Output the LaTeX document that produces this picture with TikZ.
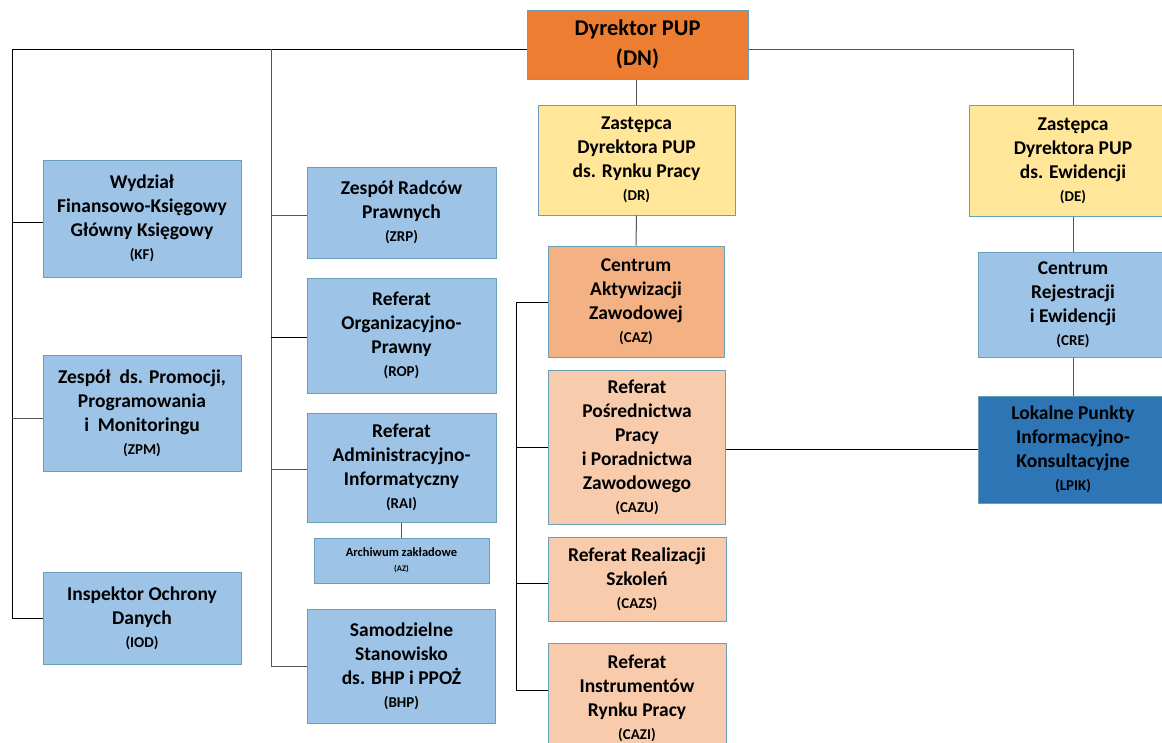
\documentclass[tikz,border=0pt]{standalone}
\usepackage{fontspec}
\setmainfont{Carlito}
\definecolor{dnor}{HTML}{ED7D31}
\definecolor{ylw}{HTML}{FFE699}
\definecolor{lblue}{HTML}{9DC3E6}
\definecolor{dblue}{HTML}{2E75B6}
\definecolor{cazc}{HTML}{F4B183}
\definecolor{peach}{HTML}{F8CBAD}
\definecolor{bordc}{HTML}{6A9FB5}
\definecolor{linec}{HTML}{555555}
\newcommand\abtxt[1]{{\fontsize{15}{17}\selectfont #1}}
\begin{document}
\begin{tikzpicture}[x=1pt,y=-1pt,
  box/.style={draw=bordc, line width=1pt, inner sep=0pt, align=center,
    font=\fontsize{19.5}{24}\selectfont\bfseries},
  bluebox/.style={box, fill=lblue},
  ylwbox/.style={box, fill=ylw},
  peachbox/.style={box, fill=peach},
  conn/.style={draw=linec, line width=1pt},
  connd/.style={draw=black, line width=1pt}]
\clip (0,0) rectangle (1162,742);
\fill[white] (0,0) rectangle (1162,742);

% director
\node[box, fill=dnor, minimum width=221pt, minimum height=69pt,
  font=\fontsize{22.5}{30}\selectfont\bfseries] (DN) at (637.5,44.5) {Dyrektor PUP\\(DN)};

% deputies
\node[ylwbox, minimum width=197pt, minimum height=110pt] (DR) at (636.5,160)
  {Zastępca\\Dyrektora PUP\\ds. Rynku Pracy\\[-1pt]\abtxt{(DR)}};
\node[ylwbox, minimum width=208pt, minimum height=111pt] (DE) at (1073,160.5)
  {Zastępca\\Dyrektora PUP\\ds. Ewidencji\\[-1pt]\abtxt{(DE)}};

% CAZ column
\node[box, fill=cazc, minimum width=176pt, minimum height=111pt] (CAZ) at (636,301.5)
  {Centrum\\Aktywizacji\\Zawodowej\\[-1pt]\abtxt{(CAZ)}};
\node[peachbox, minimum width=177pt, minimum height=154pt] (CAZU) at (637,447)
  {Referat\\Pośrednictwa\\Pracy\\i Poradnictwa\\Zawodowego\\[-1pt]\abtxt{(CAZU)}};
\node[peachbox, minimum width=178pt, minimum height=84pt] (CAZS) at (637,579)
  {Referat Realizacji\\Szkoleń\\[-1pt]\abtxt{(CAZS)}};
\node[peachbox, minimum width=178pt, minimum height=110pt] (CAZI) at (637,698)
  {Referat\\Instrumentów\\Rynku Pracy\\[-1pt]\abtxt{(CAZI)}};

% right column
\node[bluebox, minimum width=190pt, minimum height=105pt] (CRE) at (1073,304.5)
  {Centrum\\Rejestracji\\i Ewidencji\\[-1pt]\abtxt{(CRE)}};
\node[box, fill=dblue, minimum width=190pt, minimum height=107pt] (LPIK) at (1073,449.5)
  {Lokalne Punkty\\Informacyjno-\\Konsultacyjne\\[-1pt]\abtxt{(LPIK)}};

% left column
\node[bluebox, minimum width=198pt, minimum height=117pt] (KF) at (142,218.5)
  {Wydział\\Finansowo-Księgowy\\Główny Księgowy\\[-1pt]\abtxt{(KF)}};
\node[bluebox, minimum width=198pt, minimum height=116pt] (ZPM) at (142,413)
  {Zespół\ \ ds. Promocji,\\Programowania\\i\ \ Monitoringu\\[-1pt]\abtxt{(ZPM)}};
\node[bluebox, minimum width=198pt, minimum height=92pt] (IOD) at (142,618)
  {Inspektor Ochrony\\Danych\\[-1pt]\abtxt{(IOD)}};

% second column
\node[bluebox, minimum width=189pt, minimum height=91pt] (ZRP) at (401.5,212.5)
  {Zespół Radców\\Prawnych\\[-1pt]\abtxt{(ZRP)}};
\node[bluebox, minimum width=189pt, minimum height=115pt] (ROP) at (401.5,335.5)
  {Referat\\Organizacyjno-\\Prawny\\[-1pt]\abtxt{(ROP)}};
\node[bluebox, minimum width=189pt, minimum height=109pt] (RAI) at (401.5,467.5)
  {Referat\\Administracyjno-\\Informatyczny\\[-1pt]\abtxt{(RAI)}};
\node[bluebox, minimum width=175pt, minimum height=45pt,
  font=\fontsize{12.5}{15}\selectfont\bfseries] (AZ) at (401.5,560.5)
  {Archiwum zakładowe\\{\fontsize{8.5}{10}\selectfont (AZ)}};
\node[bluebox, minimum width=188pt, minimum height=114pt] (BHP) at (401.5,666)
  {Samodzielne\\Stanowisko\\ds. BHP i PPOŻ\\[-1pt]\abtxt{(BHP)}};

% coordinates for the trunk lines
\coordinate (L1) at (12,49);
\coordinate (L2) at (271,49);
\coordinate (R1) at (1073,49);
\coordinate (CB) at (516,302);

% top trunk
\draw[connd] (DN.west|-L1) -- (L1) -- (L1|-IOD.west) -- (IOD.west);
\draw[connd] ([yshift=-4pt]KF.west-|L1) -- ([yshift=-4pt]KF.west);
\draw[conn] ([yshift=-5pt]ZPM.west-|L1) -- ([yshift=-5pt]ZPM.west);
\draw[conn] (L2) -- (L2|-BHP.west) -- (BHP.west);
\draw[conn] ([yshift=-3pt]ZRP.west-|L2) -- ([yshift=-3pt]ZRP.west);
\draw[connd] ([yshift=-2pt]ROP.west-|L2) -- ([yshift=-2pt]ROP.west);
\draw[conn] ([yshift=-2pt]RAI.west-|L2) -- ([yshift=-2pt]RAI.west);
\draw[conn] (RAI.south) -- (AZ.north);
\draw[conn] (DN.east|-R1) -- (R1) -- (DE.north);

% vertical chains
\draw[conn] (DN.south-|DR.north) -- (DR.north);
\draw[conn] (DR.south) -- (CAZ.north);
\draw[conn] (DE.south) -- (CRE.north);
\draw[conn] (CRE.south) -- (LPIK.north);

% CAZ bracket
\draw[connd] (CAZ.west|-CB) -- (CB) -- ([yshift=8pt]CAZI.west-|CB) -- ([yshift=8pt]CAZI.west);
\draw[connd] (CAZU.west-|CB) -- (CAZU.west);
\draw[connd] ([yshift=-4pt]CAZS.west-|CB) -- ([yshift=-4pt]CAZS.west);

% CAZU to LPIK
\draw[connd] (CAZU.east|-LPIK.west) -- (LPIK.west);
\end{tikzpicture}
\end{document}
